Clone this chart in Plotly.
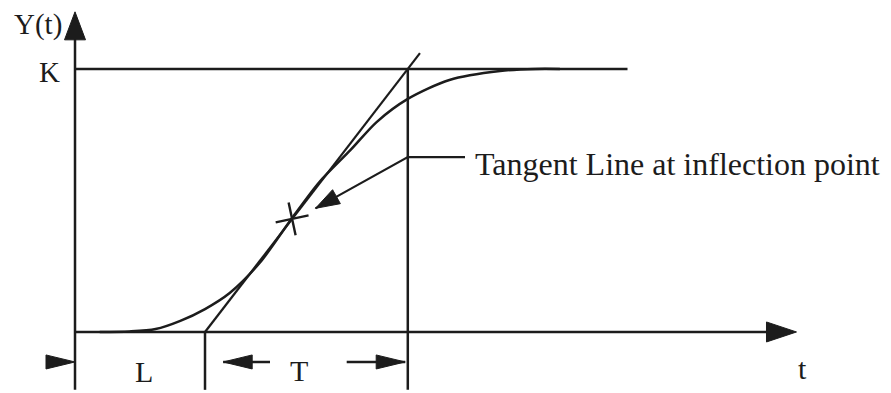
import plotly.graph_objects as go

# Process reaction curve parameters (normalised units)
L = 1.0       # apparent dead time
T = 1.56      # apparent time constant
K = 1.0       # steady-state gain

# Step response
t_resp = [0.19, 0.42, 0.62, 0.81, 1.00, 1.19, 1.42, 1.67, 1.88, 2.12, 2.32, 2.56, 2.88, 3.27, 3.54, 3.73]
y_resp = [0.000, 0.002, 0.011, 0.042, 0.087, 0.148, 0.262, 0.433, 0.570, 0.692, 0.798, 0.886, 0.958, 0.992, 1.000, 1.000]

# Inflection point
t_infl = 1.67
y_infl = 0.43

# Labels
y_label = "Y(t)"
x_label = "t"
k_label = "K"
l_label = "L"
t_label = "T"
tangent_label = "Tangent Line at inflection point"

# Extents of the drawing
t_axis_end = 5.55
y_axis_end = 1.217
y_floor = -0.22
k_line_end = 4.25
tangent_top = 1.06
dim_y = -0.114
leader_y = 0.665
leader_end = 3.0
leader_tip = (1.85, 0.47)

W, H = 891, 393
X0, X1 = -0.577, 6.277
Y0, Y1 = -0.232, 1.262
sx = W / (X1 - X0)
sy = H / (Y1 - Y0)

INK = "#1c1c1c"
FONT = "Liberation Serif, Times New Roman, serif"
LW = 2.5

fig = go.Figure()


def seg(xs, ys, width=LW):
    fig.add_trace(go.Scatter(x=xs, y=ys, mode="lines",
                             line=dict(color=INK, width=width),
                             hoverinfo="skip"))


def head(tx, ty, dx, dy, length, half_w):
    """Filled arrowhead with tip at (tx, ty), pointing along (dx, dy) in screen pixels (y up)."""
    n = (dx * dx + dy * dy) ** 0.5
    ux, uy = dx / n, dy / n
    px, py = -uy, ux
    bx, by = -ux * length, -uy * length
    pts = [(0, 0), (bx + px * half_w, by + py * half_w), (bx - px * half_w, by - py * half_w), (0, 0)]
    fig.add_trace(go.Scatter(x=[tx + p[0] / sx for p in pts],
                             y=[ty + p[1] / sy for p in pts],
                             mode="lines", fill="toself", fillcolor=INK,
                             line=dict(color=INK, width=1), hoverinfo="skip"))


# Axes
seg([0, t_axis_end - 25 / sx], [0, 0])
head(t_axis_end, 0, 1, 0, 30, 10)
seg([0, 0], [y_floor, y_axis_end - 24 / sy])
head(0, y_axis_end, 0, 1, 28, 10.5)

# Steady-state level K
seg([0, k_line_end], [K, K])

# Vertical markers at L and L+T
seg([L, L], [y_floor, 0])
seg([L + T, L + T], [y_floor, K])

# Tangent line through the inflection point
seg([L, L + T * tangent_top / K], [0, tangent_top], width=2.2)

# Response curve
fig.add_trace(go.Scatter(x=t_resp, y=y_resp, mode="lines",
                         line=dict(color=INK, width=LW, shape="spline", smoothing=0.8),
                         hoverinfo="skip"))

# Inflection point marker
fig.add_trace(go.Scatter(x=[t_infl], y=[y_infl], mode="markers",
                         marker=dict(symbol="cross-thin", size=24, angle=-12,
                                     line=dict(color=INK, width=2.4)),
                         hoverinfo="skip"))

# Leader for the tangent label
seg([leader_end, L + T, leader_tip[0]], [leader_y, leader_y, leader_tip[1]], width=2.2)
head(leader_tip[0], leader_tip[1],
     (leader_tip[0] - (L + T)) * sx, (leader_tip[1] - leader_y) * sy, 24, 8)

# Dimension arrows for L and T
head(0, dim_y, 1, 0, 29, 7)
head(L + 0.14, dim_y, -1, 0, 29, 7)
seg([L + 0.14, 1.50], [dim_y, dim_y])
head(L + T - 0.02, dim_y, 1, 0, 29, 7)
seg([2.09, L + T - 0.02], [dim_y, dim_y])

# Text labels
def label(text, x, y, size=30, xanchor="center"):
    fig.add_annotation(x=x, y=y, text=text, showarrow=False, xanchor=xanchor, yanchor="middle",
                       font=dict(family=FONT, size=size, color=INK))

label(y_label, -0.285, 1.168, size=29)
label(k_label, -0.2, 0.99, size=29)
label(l_label, (L / 2) + 0.03, -0.15, size=30)
label(t_label, L + T / 2 - 0.06, -0.145, size=30)
label(x_label, 5.6, -0.14, size=30)
label(tangent_label, 3.06, 0.64, size=32, xanchor="left")

fig.update_layout(
    width=W, height=H,
    margin=dict(l=0, r=0, t=0, b=0),
    paper_bgcolor="white", plot_bgcolor="white",
    showlegend=False, hovermode=False,
    xaxis=dict(range=[X0, X1], visible=False, fixedrange=True),
    yaxis=dict(range=[Y0, Y1], visible=False, fixedrange=True),
)

fig.write_html("out.html", config={"displayModeBar": False})
